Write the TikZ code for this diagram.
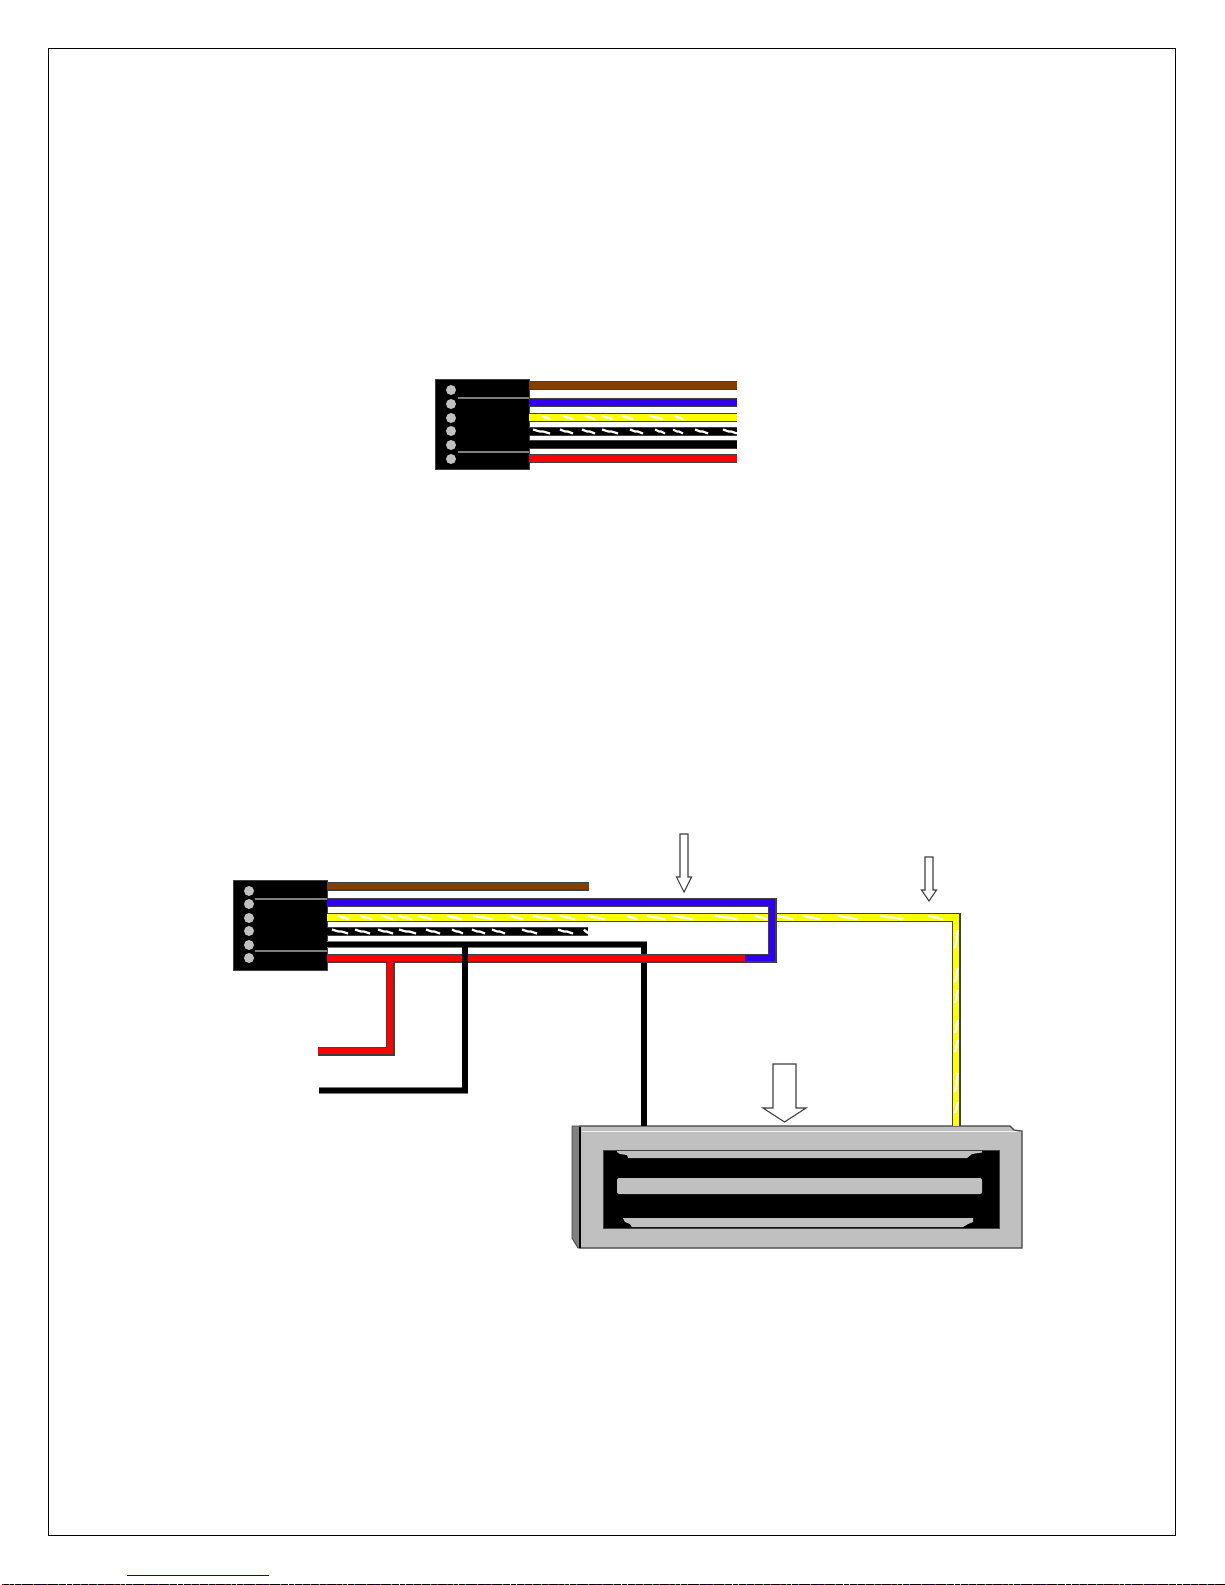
\documentclass[tikz,border=0pt]{standalone}
\definecolor{wbrown}{RGB}{128,64,0}
\definecolor{wblue}{RGB}{48,0,240}
\definecolor{wyellow}{RGB}{255,255,0}
\definecolor{wred}{RGB}{255,0,0}
\definecolor{edgec}{RGB}{64,64,64}
\definecolor{pin}{RGB}{192,192,192}
\definecolor{body}{RGB}{192,192,192}
\definecolor{side}{RGB}{128,128,128}
\definecolor{linkc}{RGB}{0,0,204}
\tikzset{
  wire/.style={draw=edgec,line width=1.1pt,double=#1,double distance=6.8pt},
  thinblack/.style={draw=edgec!70,line width=0.7pt,double=black,double distance=5.2pt},
  plug/.style={rectangle,draw=edgec,line width=0.6pt,fill=black,inner sep=0pt,outer sep=0pt,minimum width=94pt,minimum height=90pt},
  pinmark/.style={circle,fill=pin,inner sep=0pt,outer sep=0pt,minimum size=10pt},
  plugline/.style={draw=side,line width=1.2pt},
  stripe/.style={draw=white,line width=2.2pt},
  blockarrow/.style={draw=edgec,line width=1.1pt,fill=white,line join=miter},
  bar/.style={fill=body,draw=none}
}
\newcommand{\blockarr}[6]{\path[blockarrow] (#1-#3,#2) -- (#1+#3,#2) -- (#1+#3,#4) -- (#1+#5,#4) -- (#1,#6) -- (#1-#5,#4) -- (#1-#3,#4) -- cycle;}
\begin{document}
\begin{tikzpicture}[x=1pt,y=-1pt]
\useasboundingbox (0,0) rectangle (1225,1585);
\fill[white] (0,0) rectangle (1225,1585);
% page frame, link rule, bottom rule
\draw[black,line width=1pt] (48.5,48.5) rectangle (1175.8,1535.3);
\draw[linkc,line width=1pt] (127,1575.5) -- (269,1575.5);
\fill[black] (2,1584) rectangle (1225,1585);
\foreach \k in {0,...,10}
  \foreach \d/\c in {3/red,9/green,14/yellow,21/cyan,33/orange,41/blue,47/magenta,58/green,66/white,72/yellow,80/cyan,88/orange,97/green,104/magenta}
    \fill[\c] (\k*111+\d,1584) rectangle ++(1,1);

% ---- upper plug
\node[plug] (plugA) at (482,424.5) {};
\foreach \y in {390,404,418,431,445,459}
  \node[pinmark] at (451,\y) {};
\draw[plugline] (458,398) -- (plugA.east |- 0,398);
\draw[plugline] (458,452) -- (plugA.east |- 0,452);
\coordinate (aBrown) at (737,385.5);
\coordinate (aBlue) at (737,402.5);
\coordinate (aYellow) at (737,417.5);
\coordinate (aStripe) at (737,431.5);
\coordinate (aBlack) at (737,444.5);
\coordinate (aRed) at (737,458.5);
\draw[wire=wbrown] (plugA.east |- aBrown) -- (aBrown);
\draw[wire=wblue] (plugA.east |- aBlue) -- (aBlue);
\draw[wire=wyellow] (plugA.east |- aYellow) -- (aYellow);
\draw[wire=black] (plugA.east |- aStripe) -- (aStripe);
\draw[wire=black] (plugA.east |- aBlack) -- (aBlack);
\draw[wire=wred] (plugA.east |- aRed) -- (aRed);
\foreach \a/\b in {542/550,563/573,585/595,602/613,622/633,650/663,675/683}
  \draw[stripe] (\a,415.5) -- (\a+0.4*\b-0.4*\a,417.5) -- (\b-0.4*\b+0.4*\a,417.5) -- (\b,419.5);
\foreach \a/\b in {533/550,560/573,582/595,602/618,630/643,655/665,673/683,695/708,723/737}
  \draw[stripe] (\a,429.5) -- (\a+0.4*\b-0.4*\a,431.5) -- (\b-0.4*\b+0.4*\a,431.5) -- (\b,433.5);

% ---- magnet
\node[inner sep=0pt,outer sep=0pt,minimum width=442pt,minimum height=122pt] (magnet) at (801,1187) {};
\draw[fill=side,draw=edgec,line width=0.8pt] (572,1126) -- (580,1126) -- (580,1248) -- (578,1248) -- (572,1238) -- cycle;
\draw[fill=body,draw=edgec,line width=1.1pt] (580,1126) -- (1010,1126) -- (1014,1130) -- (1022,1131) -- (1022,1248) -- (580,1248) -- cycle;
\draw[black,line width=2.4pt] (580,1127) -- (580,1248);
\draw[white!95!black,line width=1.3pt] (582,1131.5) -- (1017,1131.5);
\draw[fill=black,draw=edgec,line width=0.8pt] (603,1150) rectangle (999,1228);
\path[bar] (617,1151) -- (982,1151) -- (982,1152.5) -- (972,1154) -- (967,1158) -- (628,1158) -- (627,1155) -- (620,1154) -- (617,1152) -- cycle;
\path[bar,rounded corners=2pt] (617,1178) rectangle (982,1194);
\path[bar] (623,1218) -- (973,1218) -- (973,1222) -- (968,1224) -- (963,1227) -- (632,1227) -- (630,1224) -- (625,1222) -- cycle;

% ---- lower plug
\node[plug] (plugB) at (280,925) {};
\foreach \y in {891,904,918,931,945,958}
  \node[pinmark] at (249,\y) {};
\draw[plugline] (255,899) -- (plugB.east |- 0,899);
\draw[plugline] (255,951) -- (plugB.east |- 0,951);
\coordinate (bBrown) at (589,886);
\coordinate (bBlue) at (772,902.5);
\coordinate (bBlueDown) at (772,958);
\coordinate (bJoin) at (745,958);
\coordinate (bYellow) at (956,917.5);
\coordinate (bStripe) at (588,931.5);
\coordinate (bBlack) at (644,944.5);
\coordinate (bBlackEnd) at (319,1090.5);
\coordinate (bBlackTap) at (465,946.6);
\coordinate (bRedTap) at (390,958);
\coordinate (bRedEnd) at (318,1051);
\draw[wire=wbrown] (plugB.east |- bBrown) -- (bBrown);
\draw[wire=black] (plugB.east |- bStripe) -- (bStripe);
\foreach \a/\b in {332/348,355/370,378/393,399/416,426/440,452/463,472/485,492/505,522/537,558/573,584/588}
  \draw[stripe] (\a,929.5) -- (\a+0.4*\b-0.4*\a,931.5) -- (\b-0.4*\b+0.4*\a,931.5) -- (\b,933.5);
\draw[wire=wyellow] (plugB.east |- bYellow) -- (bYellow) -- (bYellow |- magnet.north);
\foreach \a/\b in {338/349,360/372,382/393,398/412,418/432,447/462,473/493,510/523,533/552,560/575,588/605,627/637,647/665,673/693,715/738,755/767,777/793,803/820,838/858,880/903,928/943}
  \draw[stripe] (\a,915.5) -- (\a+0.4*\b-0.4*\a,917.5) -- (\b-0.4*\b+0.4*\a,917.5) -- (\b,919.5);
\foreach \a/\b in {930/948,968/982,990/1003,1020/1033,1040/1052,1073/1092,1102/1113}
  \draw[stripe] (955,\b) -- (956.5,\b-0.4*\b+0.4*\a) -- (956.5,\a+0.4*\b-0.4*\a) -- (958,\a);
\draw[thinblack] (plugB.east |- bBlack) -- (bBlack) -- (bBlack |- magnet.north);
\draw[wire=wblue] (plugB.east |- bBlue) -- (bBlue) -- (bBlueDown) -- (bJoin);
\draw[wire=wred] (plugB.east |- bJoin) -- (bJoin) (bRedTap) |- (bRedEnd);
\draw[thinblack] (bBlackTap) |- (bBlackEnd);

% ---- block arrows
\blockarr{684}{834}{4}{877}{7.5}{892}
\blockarr{929}{857}{4}{890}{7.5}{901}
\blockarr{784.5}{1064}{11.5}{1108}{21.5}{1122}
\end{tikzpicture}
\end{document}
